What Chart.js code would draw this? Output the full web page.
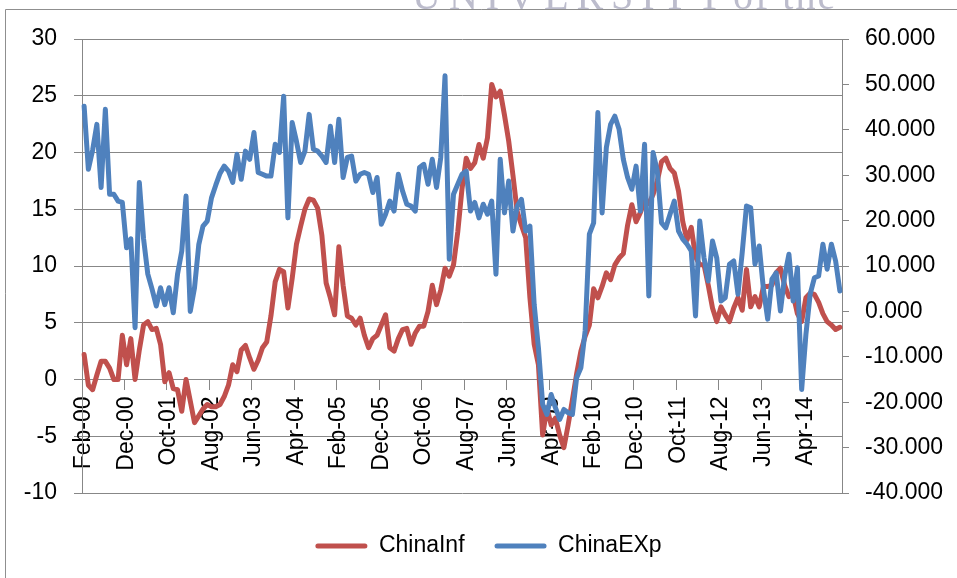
<!DOCTYPE html>
<html>
<head>
<meta charset="utf-8">
<script src="https://cdn.jsdelivr.net/npm/chart.js@4.4.1/dist/chart.umd.min.js"></script>
<style>
  html, body { margin: 0; padding: 0; background: #ffffff; }
  canvas { display: block; }
</style>
</head>
<body>
<canvas id="chart" width="957" height="578"></canvas>
<script>
// Monthly series, Feb 2000 onwards
const MONTH_NAMES = ['Jan', 'Feb', 'Mar', 'Apr', 'May', 'Jun', 'Jul', 'Aug', 'Sep', 'Oct', 'Nov', 'Dec'];
const START_YEAR = 2000;
const START_MONTH = 1; // February
const LABEL_EVERY = 10; // one axis label every ten months

// China inflation (left axis)
const chinaInf = [
  2.2, -0.5, -0.9, 0.4, 1.6, 1.6, 1.0, 0.0, 0.0, 3.9,
  1.3, 3.6, 0.0, 2.6, 4.8, 5.1, 4.4, 4.5, 3.1, -0.2,
  0.6, -0.8, -0.9, -2.8, 0.0, -1.9, -3.8, -3.2, -2.6, -2.2,
  -2.4, -2.4, -2.2, -1.5, -0.5, 1.3, 0.7, 2.6, 3.0, 1.9,
  0.9, 1.7, 2.8, 3.3, 5.6, 8.6, 9.7, 9.5, 6.3, 8.9,
  11.9, 13.5, 15.0, 15.9, 15.8, 15.1, 12.7, 8.5, 7.2, 5.7,
  11.7, 8.3, 5.6, 5.4, 4.8, 5.4, 3.9, 2.8, 3.6, 3.9,
  4.8, 5.7, 2.8, 2.5, 3.6, 4.4, 4.5, 3.1, 4.1, 4.7,
  4.7, 6.0, 8.3, 6.6, 7.9, 9.8, 9.1, 10.1, 13.0, 16.8,
  19.5, 18.6, 19.1, 20.7, 19.5, 21.3, 26.0, 24.9, 25.4, 23.3,
  21.0, 18.0, 14.8, 13.6, 12.5, 7.2, 3.1, 1.3, -4.9, -2.5,
  -4.0, -3.4, -4.9, -6.0, -4.0, -1.8, 0.5, 2.5, 3.8, 4.8,
  8.0, 7.2, 8.2, 9.4, 8.8, 10.1, 10.7, 11.1, 13.6, 15.4,
  13.9, 14.7, 15.7, 15.5, 16.3, 17.5, 19.2, 19.5, 18.6, 18.2,
  16.6, 13.9, 12.3, 13.4, 10.8, 10.1, 10.1, 8.3, 6.3, 5.1,
  6.4, 5.7, 5.1, 6.3, 7.2, 6.1, 9.7, 6.4, 7.3, 6.4,
  8.2, 8.2, 8.3, 9.4, 9.8, 8.3, 7.3, 7.5, 5.8, 5.1,
  7.2, 7.6, 7.5, 6.8, 5.8, 5.1, 4.8, 4.4, 4.6
];

// China exports growth (right axis)
const chinaExp = [
  45.2, 31.3, 35.5, 41.2, 27.3, 44.5, 25.8, 25.8, 24.3, 24.0,
  14.0, 16.0, -3.6, 28.4, 16.0, 8.2, 4.9, 1.2, 5.2, 1.5,
  5.2, -0.3, 8.2, 13.3, 25.4, 0.0, 5.2, 14.7, 18.8, 19.9,
  25.0, 27.8, 30.4, 32.0, 30.9, 28.4, 34.6, 29.1, 35.3, 33.5,
  39.4, 30.6, 30.2, 29.8, 29.8, 36.8, 35.0, 47.4, 20.6, 41.6,
  37.5, 32.8, 35.3, 43.4, 35.7, 35.3, 34.2, 32.8, 40.8, 32.8,
  42.3, 29.5, 33.9, 34.2, 28.7, 30.2, 30.6, 30.2, 26.2, 29.5,
  19.2, 21.4, 24.3, 22.1, 30.2, 26.5, 23.6, 23.2, 22.1, 31.7,
  32.4, 28.0, 33.5, 27.3, 33.9, 51.9, 11.5, 25.8, 28.0, 30.2,
  30.9, 22.1, 24.0, 20.6, 23.6, 21.4, 24.3, 8.2, 33.5, 21.7,
  28.7, 17.7, 23.2, 24.7, 17.7, 18.8, 1.5, -8.0, -20.5, -22.7,
  -18.3, -21.2, -23.8, -21.6, -22.3, -22.7, -14.6, -12.4, -4.3, 17.0,
  19.5, 43.8, 21.7, 36.1, 41.2, 43.0, 40.1, 33.5, 29.5, 26.9,
  32.0, 22.1, 36.8, 3.4, 35.0, 30.9, 19.5, 18.4, 21.4, 24.3,
  17.7, 15.9, 14.8, 13.3, -1.0, 19.9, 11.8, 6.7, 15.5, 11.8,
  2.3, 3.0, 10.4, 11.1, 3.8, 13.0, 23.2, 22.8, 10.4, 14.4,
  4.9, -1.7, 7.1, 8.5, 0.1, 7.8, 12.6, 2.3, 9.6, -17.2,
  -5.1, 3.8, 7.4, 7.8, 14.8, 9.3, 14.8, 11.1, 4.5
];

// Axis tick values
const leftTicks = [-10, -5, 0, 5, 10, 15, 20, 25, 30];
const rightTicks = [-40, -30, -20, -10, 0, 10, 20, 30, 40, 50, 60];

// Category labels such as "Feb-00"
const monthLabels = chinaInf.map((_, i) => {
  const k = START_MONTH + i;
  const yy = (START_YEAR + Math.floor(k / 12)) % 100;
  return MONTH_NAMES[k % 12] + '-' + String(yy).padStart(2, '0');
});

const GRID = '#878787';
const RED = '#C0504D';
const BLUE = '#4F81BD';

Chart.defaults.font.family = '"Liberation Sans", Arial, sans-serif';
Chart.defaults.font.size = 23;
Chart.defaults.color = '#000000';

// Page frame and the faint letterhead above it
const pageDecor = {
  id: 'pageDecor',
  beforeDraw(chart) {
    const ctx = chart.ctx;
    ctx.save();
    ctx.fillStyle = '#ffffff';
    ctx.fillRect(0, 0, chart.width, chart.height);

    ctx.filter = 'blur(0.6px)';
    ctx.fillStyle = '#bcbccc';
    ctx.textBaseline = 'alphabetic';
    ctx.font = '40px "Liberation Serif", serif';
    ctx.letterSpacing = '8px';
    ctx.fillText('UNIVERSITY', 412, 9);
    ctx.letterSpacing = '2px';
    ctx.fillText('of the', 733, 9);
    ctx.filter = 'none';
    ctx.letterSpacing = '0px';

    ctx.strokeStyle = '#8f8f8f';
    ctx.lineWidth = 1;
    ctx.beginPath();
    ctx.moveTo(5.5, chart.height);
    ctx.lineTo(5.5, 9.5);
    ctx.lineTo(chart.width, 9.5);
    ctx.stroke();
    ctx.restore();
  }
};

new Chart(document.getElementById('chart'), {
  type: 'line',
  data: {
    labels: monthLabels,
    datasets: [
      {
        label: 'ChinaInf',
        data: chinaInf,
        yAxisID: 'y',
        borderColor: RED,
        backgroundColor: RED,
        borderWidth: 5,
        pointRadius: 0,
        tension: 0,
        borderJoinStyle: 'round',
        borderCapStyle: 'round',
        order: 1
      },
      {
        label: 'ChinaEXp',
        data: chinaExp,
        yAxisID: 'y1',
        borderColor: BLUE,
        backgroundColor: BLUE,
        borderWidth: 5,
        pointRadius: 0,
        tension: 0,
        borderJoinStyle: 'round',
        borderCapStyle: 'round',
        order: 0
      }
    ]
  },
  options: {
    responsive: false,
    animation: false,
    devicePixelRatio: 1,
    events: [],
    layout: { padding: { left: 20, right: 0, top: 39, bottom: 10.5 } },
    plugins: {
      tooltip: { enabled: false },
      title: { display: false },
      legend: {
        position: 'bottom',
        title: { display: true, text: '', padding: { top: 10.5, bottom: 0 }, font: { size: 1, lineHeight: 1 } },
        labels: {
          boxWidth: 52,
          boxHeight: 5,
          padding: 30,
          color: '#000000',
          font: { size: 23 },
          sort: (a, b) => a.datasetIndex - b.datasetIndex,
          generateLabels: (chart) => chart.data.datasets.map((ds, i) => ({
            text: ds.label,
            fillStyle: ds.borderColor,
            strokeStyle: ds.borderColor,
            lineWidth: 0,
            borderRadius: 2.5,
            hidden: false,
            datasetIndex: i
          }))
        }
      }
    },
    scales: {
      x: {
        type: 'category',
        offset: true,
        position: { y: 0 },
        grid: {
          display: true,
          drawOnChartArea: false,
          drawTicks: true,
          tickLength: 10,
          offset: true,
          lineWidth: 1,
          color: GRID,
          tickColor: (c) => (c.index % LABEL_EVERY === 0 ? GRID : 'rgba(0,0,0,0)')
        },
        border: { display: true, color: GRID, width: 1 },
        ticks: {
          autoSkip: false,
          minRotation: 90,
          maxRotation: 90,
          padding: 7,
          color: '#000000',
          callback: (v, i) => (i % LABEL_EVERY === 0 ? monthLabels[i] : '')
        }
      },
      y: {
        position: 'left',
        min: -10,
        max: 30,
        afterBuildTicks: (s) => { s.ticks = leftTicks.map((v) => ({ value: v })); },
        afterFit: (s) => { s.width = 62; },
        grid: { color: GRID, lineWidth: 1, drawTicks: true, tickLength: 8 },
        border: { display: true, color: GRID, width: 1 },
        ticks: { padding: 17, color: '#000000', callback: (v) => String(v) }
      },
      y1: {
        position: 'right',
        min: -40,
        max: 60,
        afterBuildTicks: (s) => { s.ticks = rightTicks.map((v) => ({ value: v })); },
        afterFit: (s) => { s.width = 115; },
        grid: { drawOnChartArea: false, color: GRID, lineWidth: 1, drawTicks: true, tickLength: 7 },
        border: { display: true, color: GRID, width: 1 },
        ticks: { padding: 16, color: '#000000', callback: (v) => Number(v).toFixed(3) }
      }
    }
  },
  plugins: [pageDecor]
});
</script>
</body>
</html>
